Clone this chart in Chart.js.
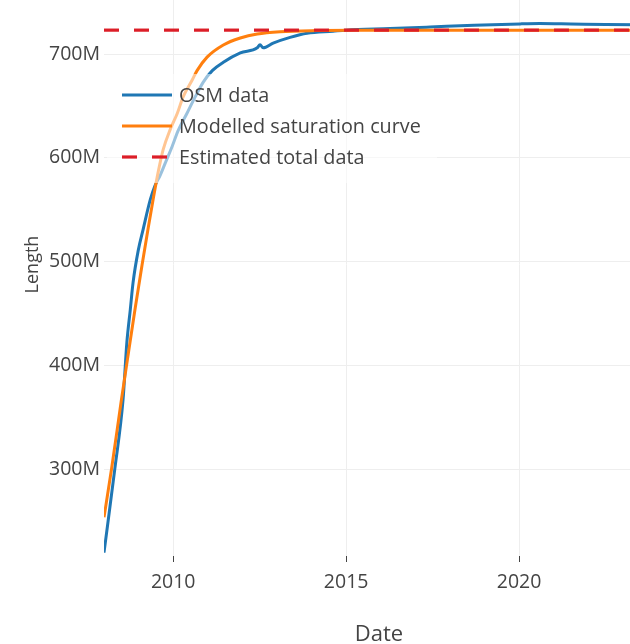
<!DOCTYPE html>
<html>
<head>
<meta charset="utf-8">
<script src="https://cdn.jsdelivr.net/npm/chart.js@4/dist/chart.umd.min.js"></script>
<style>
  html, body { margin: 0; padding: 0; overflow: hidden; background: #fff; width: 630px; height: 644px; }
  #wrap { position: absolute; left: 0; top: -27px; }
</style>
</head>
<body>
<div id="wrap"><canvas id="c" width="654" height="679"></canvas></div>
<script>
// ---- data (length in millions) ----
const osmYears = [2008.00, 2008.31, 2008.55, 2008.66, 2008.76, 2008.84, 2008.99, 2009.13, 2009.34, 2009.47,
  2009.62, 2009.77, 2009.97, 2010.14, 2010.40, 2010.64, 2010.87, 2011.13, 2011.45, 2011.94,
  2012.43, 2012.51, 2012.60, 2012.89, 2013.38, 2013.87, 2014.62, 2015.00, 2016.27, 2017.43,
  2018.70, 2020.03, 2020.60, 2021.50, 2022.50, 2023.90];
const osmLength = [220, 300, 367, 422, 454, 480, 511, 531, 560, 573,
  583, 595, 611, 626, 643, 659, 673, 684, 692, 701,
  706, 709, 706, 710.5, 716, 720, 722, 723, 724.5, 726,
  727.7, 729, 729.3, 728.9, 728.4, 728.2];

const modelYears = [2008.00, 2008.22, 2008.49, 2008.70, 2008.90, 2009.10, 2009.28, 2009.42, 2009.57, 2009.71,
  2009.91, 2010.12, 2010.29, 2010.55, 2010.69, 2010.98, 2011.45, 2011.94, 2012.43, 2013.09,
  2014.16, 2015.50, 2018.00, 2023.90];
const modelLength = [254, 301, 364, 411, 455, 497, 533, 560, 587, 608,
  627, 643, 659, 675, 684, 697, 708.7, 715.4, 719.3, 721.5,
  722.6, 722.9, 723, 723];

const totalYears = [2008.00, 2023.90];
const totalLength = [723, 723];

const xTicks = [2010, 2015, 2020];
const yTicks = [300, 400, 500, 600, 700];

const seriesLabels = ['OSM data', 'Modelled saturation curve', 'Estimated total data'];

const toPts = (xs, ys) => xs.map((x, i) => ({ x: x, y: ys[i] }));

const FONT = "'Open Sans', sans-serif";
const TEXT = '#444';
Chart.defaults.font.family = FONT;
Chart.defaults.color = TEXT;

const insideLegend = {
  id: 'insideLegend',
  afterDatasetsDraw(chart) {
    const { ctx, chartArea: ca } = chart;
    ctx.save();
    ctx.fillStyle = 'rgba(255,255,255,0.55)';
    ctx.fillRect(ca.left + 3, ca.top + 101, 330, 109);
    chart.data.datasets.forEach((ds, i) => {
      const y = ca.top + 122 + i * 31;
      ctx.strokeStyle = ds.borderColor;
      ctx.lineWidth = ds.borderWidth;
      ctx.setLineDash(ds.borderDash || []);
      ctx.beginPath();
      ctx.moveTo(ca.left + 18, y);
      ctx.lineTo(ca.left + 68, y);
      ctx.stroke();
      ctx.setLineDash([]);
      ctx.fillStyle = TEXT;
      ctx.font = "19.8px " + FONT;
      ctx.textBaseline = 'middle';
      ctx.textAlign = 'left';
      ctx.fillText(ds.label, ca.left + 75, y + 1.4);
    });
    ctx.restore();
  }
};

new Chart(document.getElementById('c'), {
  type: 'line',
  data: {
    datasets: [
      {
        label: seriesLabels[0],
        data: toPts(osmYears, osmLength),
        borderColor: '#1f77b4',
        backgroundColor: '#1f77b4',
        borderWidth: 3,
        pointRadius: 0,
        cubicInterpolationMode: 'monotone',
        fill: false,
        order: 3
      },
      {
        label: seriesLabels[1],
        data: toPts(modelYears, modelLength),
        borderColor: '#ff7f0e',
        backgroundColor: '#ff7f0e',
        borderWidth: 3,
        pointRadius: 0,
        cubicInterpolationMode: 'monotone',
        fill: false,
        order: 2
      },
      {
        label: seriesLabels[2],
        data: toPts(totalYears, totalLength),
        borderColor: 'rgb(220,30,40)',
        backgroundColor: 'rgb(220,30,40)',
        borderWidth: 3.2,
        borderDash: [15, 15],
        pointRadius: 0,
        fill: false,
        order: 1
      }
    ]
  },
  options: {
    responsive: false,
    devicePixelRatio: 1,
    animation: false,
    events: [],
    layout: { padding: 0 },
    plugins: {
      legend: { display: false },
      tooltip: { enabled: false }
    },
    scales: {
      x: {
        type: 'linear',
        min: 2008.0,
        max: 2023.9,
        afterBuildTicks: s => { s.ticks = xTicks.map(v => ({ value: v })); },
        afterFit: s => { s.height = 96; s.paddingLeft = 0; s.paddingRight = 0; },
        ticks: {
          callback: v => String(v),
          font: { size: 19.5, family: FONT },
          color: TEXT,
          padding: 9,
          maxRotation: 0,
          autoSkip: false
        },
        grid: { color: '#eee', lineWidth: 1, drawTicks: true, tickLength: 6, tickColor: '#444', tickWidth: 1 },
        border: { display: false },
        title: {
          display: true,
          text: 'Date',
          font: { size: 22, family: FONT },
          color: TEXT,
          padding: { top: 0, bottom: 4 }
        }
      },
      y: {
        type: 'linear',
        min: 216.8,
        max: 778,
        afterBuildTicks: s => { s.ticks = yTicks.map(v => ({ value: v })); },
        afterFit: s => { s.width = 104; s.paddingTop = 0; s.paddingBottom = 0; },
        ticks: {
          callback: v => v + 'M',
          font: { size: 19.5, family: FONT },
          color: TEXT,
          padding: 4
        },
        grid: { color: '#eee', lineWidth: 1, drawTicks: false },
        border: { display: false },
        title: {
          display: true,
          text: 'Length',
          font: { size: 18, family: FONT },
          color: TEXT,
          padding: { top: 22.4, bottom: 0 }
        }
      }
    }
  },
  plugins: [insideLegend]
});
</script>
</body>
</html>
